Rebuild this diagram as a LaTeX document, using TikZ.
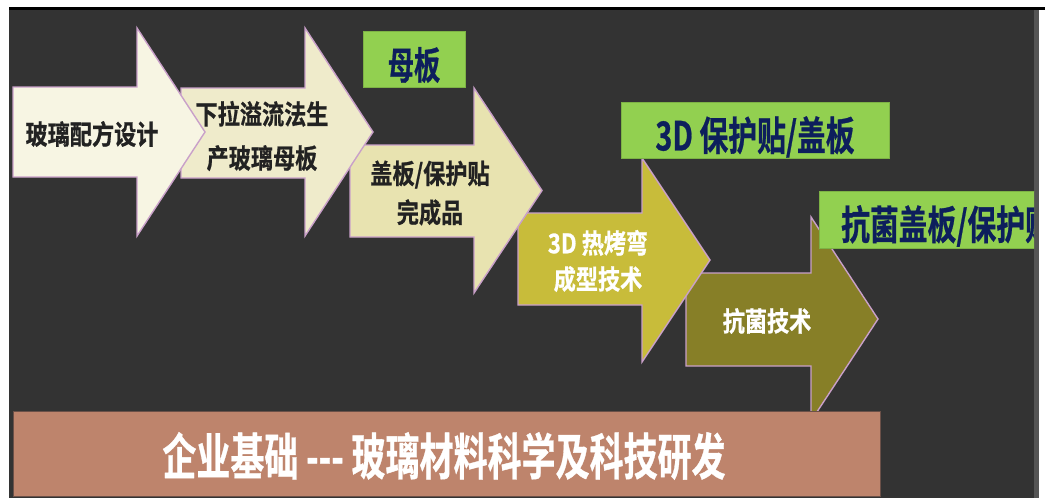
\documentclass[tikz,border=0pt]{standalone}
\usepackage{fontspec}
\newfontfamily\cjkb{Noto Sans CJK SC Bold}[FakeBold=0.8]
\definecolor{bgdark}{HTML}{333333}
\definecolor{stripe}{HTML}{555555}
\definecolor{arrowline}{HTML}{C9A0C9}
\definecolor{aone}{HTML}{F7F5E3}
\definecolor{atwo}{HTML}{EFEBCB}
\definecolor{athree}{HTML}{E8E3B0}
\definecolor{afour}{HTML}{C8BC3A}
\definecolor{afive}{HTML}{877F27}
\definecolor{greenbox}{HTML}{92D050}
\definecolor{greenline}{HTML}{7DB245}
\definecolor{navytext}{HTML}{0D1F5C}
\definecolor{barfill}{HTML}{BE846C}
\definecolor{barline}{HTML}{6B5048}
\definecolor{darktext}{HTML}{222222}
\tikzset{
  arrowbody/.style={draw=arrowline, line width=1.4pt, line join=miter},
  greentag/.style={fill=greenbox, draw=greenline, line width=0.8pt},
  arrowtext/.style={font=\cjkb\fontsize{27}{44}\selectfont, align=center, inner sep=0pt, xscale=0.82},
  tagtext/.style={font=\cjkb\fontsize{40}{44}\selectfont, text=navytext, inner sep=0pt, xscale=0.72},
}
% #1 fill, #2 xL, #3 yT, #4 yB, #5 xH, #6 hT, #7 hB, #8 xTip
\newcommand{\myarrow}[8]{%
  \draw[arrowbody, fill=#1] (#2,#3) -- (#5,#3) -- (#5,#6) -- (#8,{(#6+#7)/2}) -- (#5,#7) -- (#5,#4) -- (#2,#4) -- cycle;}
\begin{document}
\begin{tikzpicture}[x=1pt, y=-1pt]
\useasboundingbox (0,0) rectangle (1046,498);
% frame
\fill[white] (0,0) rectangle (1046,498);
\fill[bgdark] (9,9) rectangle (1034,498);
\fill[stripe] (1034,9) rectangle (1039,498);
\fill[black] (9,7) rectangle (1045,9.5);
% arrows (last drawn first)
\myarrow{afive}{686}{273}{366}{811}{217}{421}{878}
\myarrow{afour}{518}{213}{305}{642}{158}{362}{710}
\myarrow{athree}{350}{145}{237}{474}{88}{293}{542}
\myarrow{atwo}{181}{88}{178}{305}{28}{236}{373}
\myarrow{aone}{13}{87}{177}{137}{28}{236}{205}
% arrow texts
\node[arrowtext, text=darktext] (t1) at (92,134) {玻璃配方设计};
\node[arrowtext, text=darktext] (t2) at (262,136) {下拉溢流法生\\产玻璃母板};
\node[arrowtext, text=darktext, font=\cjkb\fontsize{27}{39}\selectfont] (t3) at (430,193) {盖板/保护贴\\完成品};
\node[arrowtext, text=white, font=\cjkb\fontsize{27}{36}\selectfont] (t4) at (598,261) {3D 热烤弯\\成型技术};
\node[arrowtext, text=white] (t5) at (767,321) {抗菌技术};
% green tags
\draw[greentag] (363,31) rectangle (465,87);
\node[tagtext, font=\cjkb\fontsize{38}{40}\selectfont, xscale=0.96] (g1) at (414,65) {母板};
\draw[greentag] (621,102) rectangle (889,158);
\node[tagtext] (g2) at (755,137) {3D 保护贴/盖板};
\begin{scope}
\clip (800,180) rectangle (1034,260);
\draw[greentag] (819,191) rectangle (1040,248);
\node[tagtext, anchor=west] (g3) at (841,226) {抗菌盖板/保护贴};
\end{scope}
% base bar
\draw[fill=barfill, draw=barline, line width=1pt] (13,411) rectangle (880,496);
\node[font=\cjkb\fontsize{50}{52}\selectfont, text=white, inner sep=0pt, xscale=0.68] (base) at (444,456) {企业基础 --- 玻璃材料科学及科技研发};
\end{tikzpicture}
\end{document}
